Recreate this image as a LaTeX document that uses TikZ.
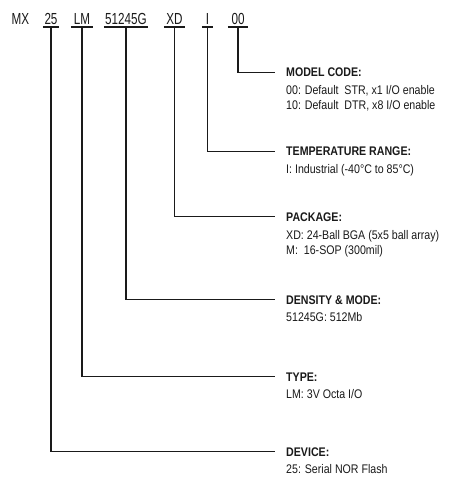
\documentclass[tikz,border=0pt]{standalone}
\usepackage{fontspec}
\setmainfont{Liberation Sans}
\newfontfamily\topfont[FakeStretch=0.73]{Liberation Sans}
\newfontfamily\lblfont[FakeStretch=0.85]{Liberation Sans}
\definecolor{ink}{HTML}{1A1A1A}
\begin{document}
\begin{tikzpicture}[x=1pt,y=-1pt,
  code/.style={inner sep=0pt, anchor=base, font=\topfont\fontsize{16}{19}\selectfont, text=ink},
  ttl/.style={inner sep=0pt, anchor=base west, font=\lblfont\bfseries\fontsize{12.5}{15}\selectfont, text=ink},
  txt/.style={inner sep=0pt, anchor=base west, font=\lblfont\fontsize{12.5}{15}\selectfont, text=ink},
  uline/.style={draw=ink, line width=1.1pt},
  conn/.style={draw=ink, line width=1.2pt, shorten >=11pt}]
\useasboundingbox[fill=white] (0,0) rectangle (458,486);

% top code row
\node[code] (mx) at (20.5,24.3) {MX};
\node[code, minimum width=16pt] (c25) at (51,24.3) {25};
\node[code, minimum width=22pt] (clm) at (82,24.3) {LM};
\node[code, minimum width=44pt] (cden) at (126,24.3) {51245G};
\node[code, minimum width=21pt] (cxd) at (174.5,24.3) {XD};
\node[code, minimum width=11pt] (ci) at (207.5,24.3) {I};
\node[code, minimum width=20pt] (c00) at (238,24.3) {00};

\foreach \n in {c25,clm,cden,cxd,ci,c00}
  \draw[uline] ([yshift=-2.7pt]\n.base west) -- ([yshift=-2.7pt]\n.base east);

% labels
\node[ttl] (model) at (286,76.7) {MODEL CODE:};
\node[txt] (model1) at (286,94.5) {00: Default\ \ STR, x1 I/O enable};
\node[txt] (model2) at (286,110) {10: Default\ \ DTR, x8 I/O enable};

\node[ttl] (temp) at (286,155.5) {TEMPERATURE RANGE:};
\node[txt] (temp1) at (286,173.5) {I: Industrial (-40°C to 85°C)};

\node[ttl] (pkg) at (286,221) {PACKAGE:};
\node[txt] (pkg1) at (286,239) {XD: 24-Ball BGA (5x5 ball array)};
\node[txt] (pkg2) at (286,254.5) {M:\ \ 16-SOP (300mil)};

\node[ttl] (dens) at (286,304) {DENSITY \& MODE:};
\node[txt] (dens1) at (286,321.5) {51245G: 512Mb};

\node[ttl] (type) at (286,381) {TYPE:};
\node[txt] (type1) at (286,398) {LM: 3V Octa I/O};

\node[ttl] (dev) at (286,456) {DEVICE:};
\node[txt] (dev1) at (286,473) {25: Serial NOR Flash};

% connectors
\draw[conn] ([yshift=-2.7pt]c00.base) |- (model.west);
\draw[conn] ([yshift=-2.7pt]ci.base) |- (temp.west);
\draw[conn] ([yshift=-2.7pt]cxd.base) |- (pkg.west);
\draw[conn] ([yshift=-2.7pt]cden.base) |- (dens.west);
\draw[conn] ([yshift=-2.7pt]clm.base) |- (type.west);
\draw[conn] ([yshift=-2.7pt]c25.base) |- (dev.west);
\end{tikzpicture}
\end{document}
